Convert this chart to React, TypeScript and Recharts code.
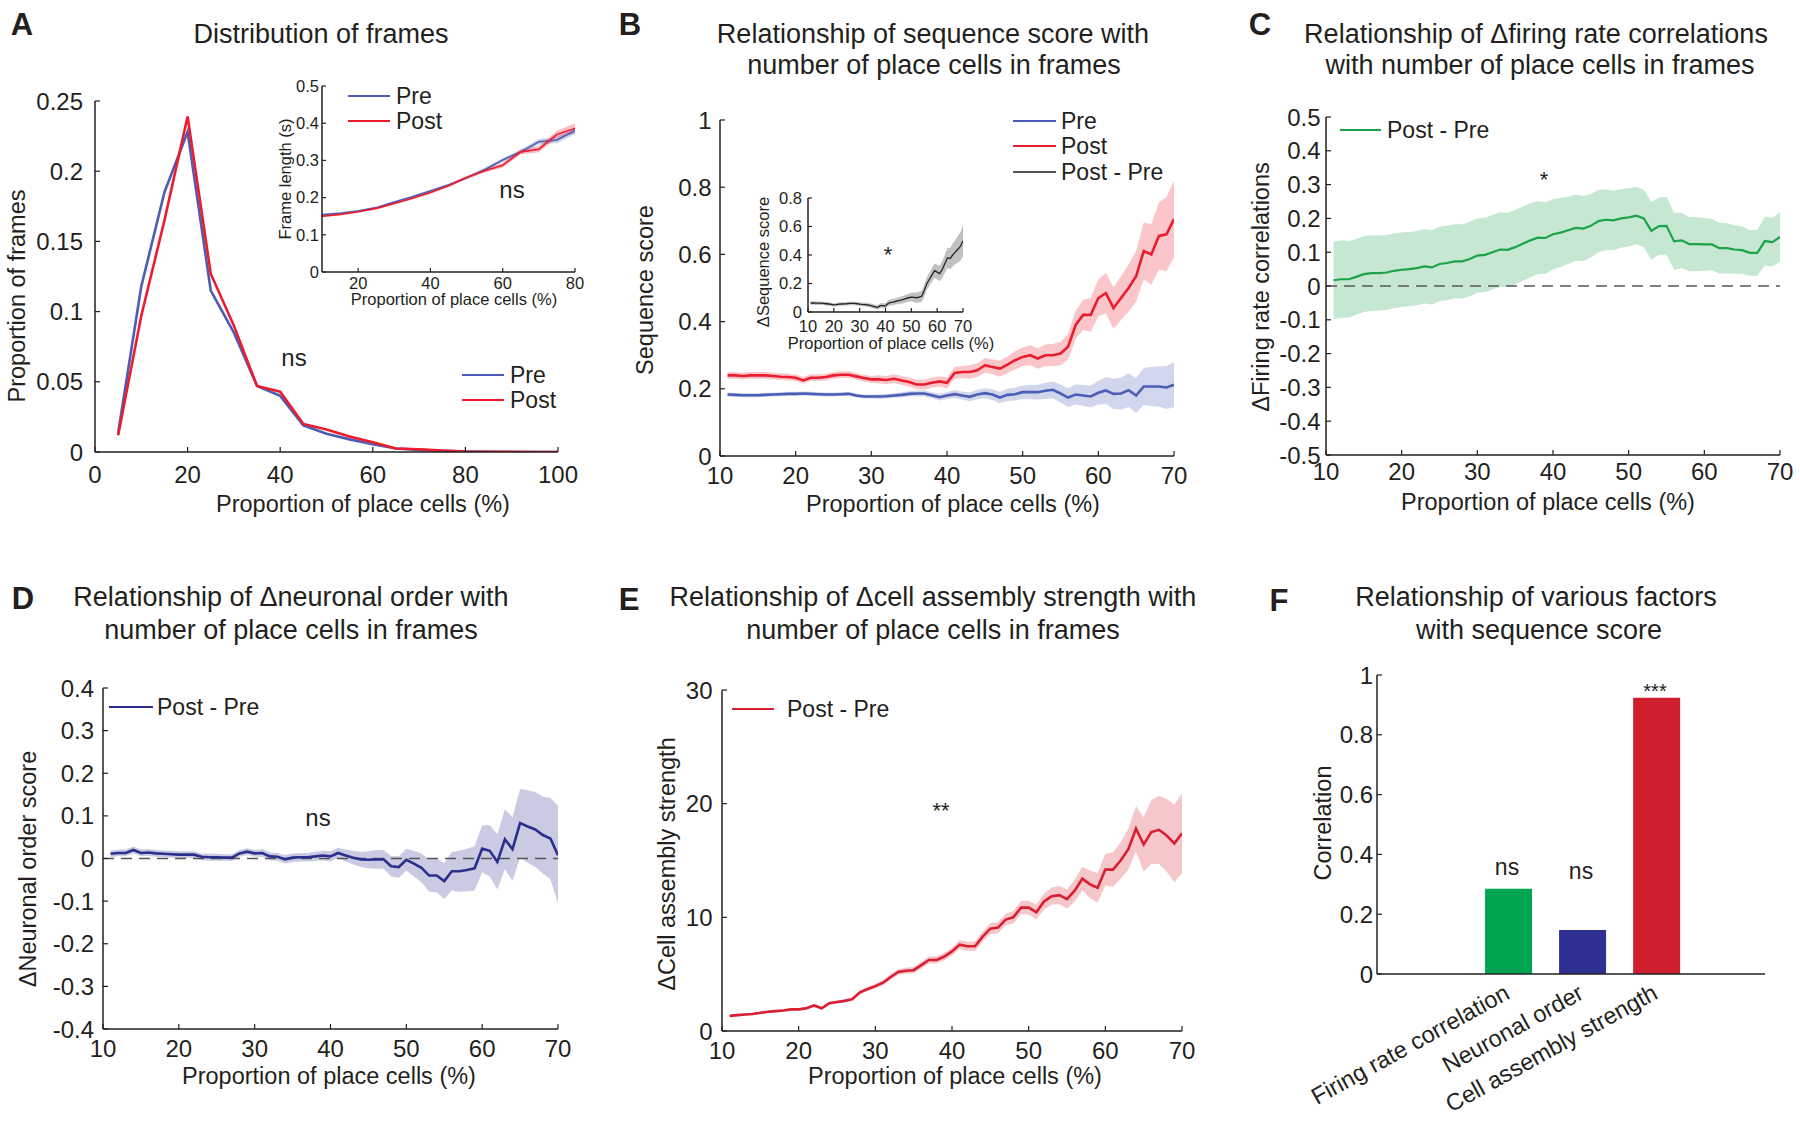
import React from 'react';
import { ComposedChart, BarChart, Bar, Cell, Line, Area, XAxis, YAxis, ReferenceLine } from 'recharts';

const FONT = '"Liberation Sans", Arial, Helvetica, sans-serif';
const INK = '#231f20';

const PRE = '#4b5db4';
const POST = '#ec1c2d';
const GREEN = '#1aa34a';
const NAVY = '#2b2f8c';
const CRED = '#d81e30';

// ---- A: distribution of frames ----
const aX = [5, 10, 15, 20, 25, 30, 35, 40, 45, 50, 55, 60, 65, 70, 75, 80, 85, 90, 95, 100];
const aPre = [0.0135, 0.118, 0.185, 0.228, 0.115, 0.085, 0.047, 0.040, 0.019, 0.013, 0.009, 0.0055, 0.0025, 0.0015, 0.0008, 0.0003, 0.0001, 0, 0, 0];
const aPost = [0.012, 0.097, 0.165, 0.239, 0.127, 0.090, 0.047, 0.043, 0.020, 0.016, 0.011, 0.007, 0.0025, 0.002, 0.001, 0.0004, 0.0002, 0.0001, 0, 0];

// A inset: frame length
const insX = [10, 15, 20, 25, 30, 35, 40, 45, 50, 55, 60, 65, 70, 75, 80];
const insPre = [0.154, 0.158, 0.164, 0.173, 0.188, 0.202, 0.218, 0.234, 0.253, 0.275, 0.301, 0.323, 0.350, 0.355, 0.380];
const insPreErr = [0.003, 0.003, 0.003, 0.003, 0.003, 0.003, 0.004, 0.004, 0.004, 0.005, 0.005, 0.006, 0.007, 0.008, 0.009];
const insPost = [0.150, 0.155, 0.162, 0.171, 0.184, 0.198, 0.214, 0.232, 0.254, 0.272, 0.287, 0.323, 0.330, 0.370, 0.386];
const insPostErr = [0.003, 0.003, 0.003, 0.003, 0.003, 0.003, 0.004, 0.004, 0.004, 0.005, 0.006, 0.007, 0.008, 0.010, 0.013];

// shared x grid for B-E (proportion of place cells, %)
const xs = [11, 12, 13, 14, 15, 16, 17, 18, 19, 20, 21, 22, 23, 24, 25, 26, 27, 28, 29, 30,
  31, 32, 33, 34, 35, 36, 37, 38, 39, 40, 41, 42, 43, 44, 45, 46, 47, 48, 49, 50,
  51, 52, 53, 54, 55, 56, 57, 58, 59, 60, 61, 62, 63, 64, 65, 66, 67, 68, 69, 70];

// ---- B: sequence score ----
const bPost = [0.240, 0.240, 0.238, 0.240, 0.240, 0.240, 0.238, 0.236, 0.235, 0.233,
  0.225, 0.233, 0.233, 0.235, 0.240, 0.242, 0.242, 0.237, 0.232, 0.228,
  0.228, 0.226, 0.230, 0.225, 0.220, 0.213, 0.213, 0.218, 0.222, 0.218,
  0.247, 0.250, 0.250, 0.255, 0.270, 0.265, 0.260, 0.272, 0.285, 0.295,
  0.300, 0.290, 0.300, 0.300, 0.305, 0.325, 0.390, 0.420, 0.420, 0.470,
  0.485, 0.440, 0.470, 0.500, 0.535, 0.610, 0.600, 0.655, 0.660, 0.705];
const bPostErr = [0.010, 0.010, 0.010, 0.010, 0.010, 0.010, 0.010, 0.010, 0.010, 0.010,
  0.010, 0.010, 0.010, 0.010, 0.010, 0.010, 0.010, 0.010, 0.010, 0.010,
  0.012, 0.012, 0.013, 0.013, 0.014, 0.014, 0.015, 0.015, 0.015, 0.016,
  0.018, 0.018, 0.020, 0.020, 0.022, 0.022, 0.024, 0.025, 0.027, 0.028,
  0.030, 0.030, 0.032, 0.033, 0.035, 0.038, 0.042, 0.045, 0.050, 0.055,
  0.060, 0.062, 0.065, 0.070, 0.075, 0.085, 0.090, 0.100, 0.110, 0.115];
const bPre = [0.183, 0.182, 0.181, 0.181, 0.181, 0.182, 0.183, 0.184, 0.185, 0.185,
  0.186, 0.185, 0.184, 0.183, 0.183, 0.184, 0.185, 0.180, 0.177, 0.177,
  0.177, 0.178, 0.180, 0.182, 0.185, 0.186, 0.186, 0.181, 0.175, 0.180,
  0.184, 0.180, 0.176, 0.183, 0.187, 0.183, 0.174, 0.182, 0.184, 0.190,
  0.190, 0.190, 0.194, 0.197, 0.186, 0.174, 0.183, 0.180, 0.177, 0.188,
  0.195, 0.185, 0.186, 0.196, 0.180, 0.207, 0.207, 0.207, 0.204, 0.212];
const bPreErr = [0.006, 0.006, 0.006, 0.006, 0.006, 0.006, 0.006, 0.006, 0.006, 0.006,
  0.006, 0.006, 0.006, 0.006, 0.006, 0.006, 0.006, 0.006, 0.006, 0.006,
  0.007, 0.007, 0.007, 0.008, 0.008, 0.008, 0.009, 0.009, 0.010, 0.010,
  0.012, 0.012, 0.013, 0.014, 0.015, 0.016, 0.017, 0.018, 0.019, 0.020,
  0.021, 0.022, 0.024, 0.025, 0.027, 0.028, 0.030, 0.031, 0.033, 0.035,
  0.040, 0.045, 0.048, 0.050, 0.052, 0.055, 0.058, 0.060, 0.064, 0.067];
// B inset: Post - Pre
const bDiff = [0.063, 0.063, 0.062, 0.062, 0.062, 0.060, 0.058, 0.056, 0.054, 0.050,
  0.052, 0.055, 0.056, 0.057, 0.058, 0.060, 0.060, 0.060, 0.058, 0.055,
  0.053, 0.052, 0.050, 0.046, 0.042, 0.036, 0.033, 0.045, 0.045, 0.043,
  0.060, 0.068, 0.070, 0.075, 0.080, 0.083, 0.088, 0.095, 0.100, 0.105,
  0.103, 0.100, 0.105, 0.110, 0.150, 0.200, 0.230, 0.260, 0.290, 0.280,
  0.270, 0.300, 0.340, 0.380, 0.375, 0.400, 0.420, 0.440, 0.460, 0.500];
const bDiffErr = [0.012, 0.012, 0.012, 0.012, 0.012, 0.012, 0.012, 0.012, 0.012, 0.012,
  0.012, 0.012, 0.012, 0.012, 0.012, 0.012, 0.012, 0.012, 0.012, 0.012,
  0.013, 0.013, 0.013, 0.014, 0.014, 0.015, 0.015, 0.016, 0.017, 0.018,
  0.020, 0.021, 0.022, 0.023, 0.024, 0.025, 0.026, 0.027, 0.028, 0.030,
  0.033, 0.035, 0.037, 0.040, 0.042, 0.044, 0.046, 0.048, 0.050, 0.052,
  0.055, 0.060, 0.065, 0.070, 0.075, 0.080, 0.085, 0.095, 0.100, 0.110];

// ---- C: delta firing rate correlations ----
const cVal = [0.017, 0.020, 0.020, 0.027, 0.035, 0.038, 0.038, 0.040, 0.045, 0.048,
  0.050, 0.053, 0.058, 0.055, 0.065, 0.068, 0.073, 0.073, 0.080, 0.090,
  0.092, 0.100, 0.108, 0.107, 0.115, 0.125, 0.135, 0.143, 0.142, 0.153,
  0.158, 0.165, 0.172, 0.170, 0.178, 0.192, 0.196, 0.194, 0.200, 0.203,
  0.208, 0.200, 0.163, 0.177, 0.178, 0.132, 0.135, 0.124, 0.124, 0.123,
  0.123, 0.112, 0.112, 0.108, 0.106, 0.098, 0.098, 0.133, 0.130, 0.145];
const cErr = [0.115, 0.115, 0.113, 0.112, 0.112, 0.112, 0.111, 0.111, 0.110, 0.110,
  0.110, 0.110, 0.110, 0.110, 0.110, 0.110, 0.110, 0.110, 0.110, 0.110,
  0.110, 0.110, 0.110, 0.110, 0.110, 0.110, 0.110, 0.108, 0.106, 0.104,
  0.102, 0.100, 0.098, 0.096, 0.094, 0.092, 0.090, 0.088, 0.087, 0.086,
  0.085, 0.085, 0.085, 0.085, 0.085, 0.085, 0.082, 0.080, 0.080, 0.078,
  0.076, 0.075, 0.074, 0.072, 0.070, 0.068, 0.068, 0.072, 0.072, 0.073];

// ---- D: delta neuronal order ----
const dVal = [0.011, 0.013, 0.013, 0.020, 0.013, 0.014, 0.012, 0.011, 0.010, 0.009,
  0.009, 0.009, 0.004, 0.003, 0.003, 0.002, 0.002, 0.012, 0.016, 0.012,
  0.013, 0.005, 0.004, -0.002, 0.002, 0.003, 0.003, 0.005, 0.007, 0.005,
  0.013, 0.007, 0.002, -0.002, -0.003, -0.002, -0.002, -0.018, -0.020, -0.003,
  -0.012, -0.022, -0.040, -0.040, -0.053, -0.030, -0.030, -0.027, -0.023, 0.023,
  0.018, -0.008, 0.045, 0.022, 0.083, 0.075, 0.068, 0.055, 0.047, 0.008];
const dErr = [0.008, 0.008, 0.008, 0.008, 0.008, 0.008, 0.008, 0.008, 0.008, 0.008,
  0.008, 0.008, 0.008, 0.008, 0.008, 0.008, 0.008, 0.008, 0.008, 0.008,
  0.009, 0.009, 0.009, 0.010, 0.010, 0.010, 0.010, 0.011, 0.011, 0.012,
  0.012, 0.014, 0.016, 0.018, 0.020, 0.022, 0.022, 0.024, 0.025, 0.026,
  0.030, 0.034, 0.038, 0.040, 0.042, 0.045, 0.048, 0.050, 0.052, 0.055,
  0.060, 0.065, 0.070, 0.075, 0.080, 0.085, 0.088, 0.090, 0.095, 0.115];

// ---- E: delta cell assembly strength ----
const eVal = [1.33, 1.40, 1.45, 1.50, 1.60, 1.70, 1.75, 1.80, 1.90, 1.90,
  2.00, 2.25, 2.00, 2.45, 2.55, 2.65, 2.80, 3.40, 3.70, 3.95,
  4.25, 4.75, 5.20, 5.30, 5.35, 5.80, 6.25, 6.25, 6.55, 7.00,
  7.60, 7.45, 7.45, 8.30, 9.00, 9.10, 9.80, 10.00, 10.85, 10.85,
  10.45, 11.40, 11.85, 11.95, 11.60, 12.35, 13.40, 12.90, 12.60, 14.20,
  14.20, 15.00, 16.00, 17.80, 16.40, 17.50, 17.70, 17.20, 16.50, 17.40];
const eErr = [0.10, 0.10, 0.10, 0.10, 0.10, 0.10, 0.10, 0.11, 0.11, 0.12,
  0.12, 0.13, 0.13, 0.14, 0.14, 0.15, 0.16, 0.17, 0.18, 0.20,
  0.22, 0.24, 0.26, 0.27, 0.28, 0.30, 0.31, 0.32, 0.33, 0.35,
  0.38, 0.40, 0.42, 0.45, 0.48, 0.50, 0.52, 0.55, 0.58, 0.60,
  0.65, 0.70, 0.75, 0.80, 0.85, 0.95, 1.05, 1.20, 1.30, 1.40,
  1.50, 1.60, 1.80, 2.00, 2.40, 2.80, 3.00, 3.20, 3.40, 3.50];

// ---- F: correlations ----
const fNames = ['Firing rate correlation', 'Neuronal order', 'Cell assembly strength'];
const fPos = [1, 2, 3];
const fVals = [0.285, 0.147, 0.924];
const fColors = ['#00a651', '#2e3192', '#cf1f2e'];

// tick labels
const aXTicks = [0, 20, 40, 60, 80, 100];
const aYTicks = [0, 0.05, 0.1, 0.15, 0.2, 0.25];
const insXTicks = [20, 40, 60, 80];
const insYTicks = [0, 0.1, 0.2, 0.3, 0.4, 0.5];
const pcTicks = [10, 20, 30, 40, 50, 60, 70];
const bYTicks = [0, 0.2, 0.4, 0.6, 0.8, 1];
const bInsYTicks = [0, 0.2, 0.4, 0.6, 0.8];
const cYTicks = [-0.5, -0.4, -0.3, -0.2, -0.1, 0, 0.1, 0.2, 0.3, 0.4, 0.5];
const dYTicks = [-0.4, -0.3, -0.2, -0.1, 0, 0.1, 0.2, 0.3, 0.4];
const eYTicks = [0, 10, 20, 30];
const fYTicks = [0, 0.2, 0.4, 0.6, 0.8, 1];

type Box = { l: number; r: number; t: number; b: number };
const YW = 100;
const MT = 20;
const MR = 30;

function frame(p: Box, xh = 60) {
  return {
    style: { position: 'absolute' as const, left: p.l - YW, top: p.t - MT },
    width: p.r - p.l + YW + MR,
    height: p.b - p.t + MT + xh,
    margin: { top: MT, right: MR, bottom: 0, left: 0 },
  };
}

const axis = (size: number) => ({
  stroke: INK,
  axisLine: { stroke: INK, strokeWidth: 1.5 },
  tickLine: { stroke: INK, strokeWidth: 1.2 },
  tick: { fontSize: size, fill: INK },
});

const band = (v: number[], e: number[], i: number) => [v[i] - e[i], v[i] + e[i]];

type Series = { key: string; color: string; width: number; band?: number };

const Plot = ({ box, data, xDomain, xTicks, yDomain, yTicks, series, size = 24, tick = 5, xm = 16, ym = 14, zero = false }: any) => {
  const f = frame(box);
  return (
    <div style={f.style}>
      <ComposedChart width={f.width} height={f.height} margin={f.margin} data={data}>
        {series.filter((s: Series) => s.band).map((s: Series) => (
          <Area key={s.key + 'B'} type="linear" dataKey={s.key + 'Band'} stroke="none" fill={s.color} fillOpacity={s.band} isAnimationActive={false} />
        ))}
        {zero && <ReferenceLine y={0} stroke="#555" strokeWidth={1.5} strokeDasharray="11 7" />}
        {series.map((s: Series) => (
          <Line key={s.key} type="linear" dataKey={s.key} stroke={s.color} strokeWidth={s.width} dot={false} isAnimationActive={false} />
        ))}
        <XAxis type="number" dataKey="x" domain={xDomain} ticks={xTicks} height={60} tickSize={-tick} tickMargin={xm} allowDataOverflow {...axis(size)} />
        <YAxis type="number" domain={yDomain} ticks={yTicks} width={YW} tickSize={-tick} tickMargin={ym} allowDataOverflow {...axis(size)} />
      </ComposedChart>
    </div>
  );
};

const Txt = ({ x, y, size = 23.5, rot = 0, bold = false, anchor = 'middle', children }: any) => {
  const tx = anchor === 'middle' ? '-50%' : anchor === 'end' ? '-100%' : '0';
  return (
    <div style={{ position: 'absolute', left: x, top: y, transform: `translate(${tx},-50%) rotate(${rot}deg)`, fontSize: size, fontWeight: bold ? 700 : 400, whiteSpace: 'nowrap', lineHeight: 1, color: INK }}>
      {children}
    </div>
  );
};

const Key = ({ x, y, w, color, thick = 2.5, label, size = 23, gap = 6 }: any) => (
  <>
    <div style={{ position: 'absolute', left: x, top: y - thick / 2, width: w, height: thick, background: color }} />
    <Txt x={x + w + gap} y={y} size={size} anchor="start">{label}</Txt>
  </>
);

const FTick = (props: any) => {
  const { x, y, payload } = props;
  const ax = x - 5;
  const ay = y + 9;
  return (
    <text x={ax} y={ay} dy="0.71em" textAnchor="end" fontSize={23.5} fill={INK} transform={`rotate(-29, ${ax}, ${ay})`}>
      {fNames[payload.value - 1]}
    </text>
  );
};

export default function App() {
  const aData = aX.map((x, i) => ({ x, pre: aPre[i], post: aPost[i] }));
  const insData = insX.map((x, i) => ({
    x, pre: insPre[i], post: insPost[i],
    preBand: band(insPre, insPreErr, i), postBand: band(insPost, insPostErr, i),
  }));
  const bData = xs.map((x, i) => ({
    x, pre: bPre[i], post: bPost[i],
    preBand: band(bPre, bPreErr, i), postBand: band(bPost, bPostErr, i),
  }));
  const bInsData = xs.map((x, i) => ({ x, diff: bDiff[i], diffBand: band(bDiff, bDiffErr, i) }));
  const cData = xs.map((x, i) => ({ x, v: cVal[i], vBand: band(cVal, cErr, i) }));
  const dData = xs.map((x, i) => ({ x, v: dVal[i], vBand: band(dVal, dErr, i) }));
  const eData = xs.map((x, i) => ({ x, v: eVal[i], vBand: band(eVal, eErr, i) }));
  const fData = fPos.map((x, i) => ({ x, v: fVals[i] }));

  const fBox = { l: 1377, r: 1765, t: 675, b: 974 };
  const ff = frame(fBox, 170);

  return (
    <div style={{ position: 'absolute', left: 0, top: 0, width: 1800, height: 1123, background: '#fff', fontFamily: FONT, overflow: 'hidden' }}>
      {/* A */}
      <Txt x={22} y={24} size={31} bold>A</Txt>
      <Txt x={321} y={34} size={27}>Distribution of frames</Txt>
      <Plot box={{ l: 95, r: 558, t: 101, b: 452 }} data={aData} xDomain={[0, 100]} xTicks={aXTicks} yDomain={[0, 0.25]} yTicks={aYTicks}
        series={[{ key: 'pre', color: PRE, width: 2.6 }, { key: 'post', color: POST, width: 2.6 }]} xm={19} ym={17} />
      <Txt x={18} y={296} rot={-90}>Proportion of frames</Txt>
      <Txt x={363} y={505}>Proportion of place cells (%)</Txt>
      <Txt x={294} y={358} size={24}>ns</Txt>
      <Key x={462} y={375} w={42} color={PRE} label="Pre" />
      <Key x={462} y={400} w={42} color={POST} label="Post" />

      <Plot box={{ l: 322, r: 575, t: 86, b: 272 }} data={insData} xDomain={[10, 80]} xTicks={insXTicks} yDomain={[0, 0.5]} yTicks={insYTicks}
        series={[{ key: 'pre', color: PRE, width: 1.6, band: 0.3 }, { key: 'post', color: POST, width: 1.6, band: 0.3 }]} size={16.5} tick={4} xm={9} ym={7} />
      <Txt x={285} y={179} size={16.5} rot={-90}>Frame length (s)</Txt>
      <Txt x={454} y={299} size={16.5}>Proportion of place cells (%)</Txt>
      <Txt x={512} y={190} size={24}>ns</Txt>
      <Key x={348} y={96} w={42} color={PRE} label="Pre" />
      <Key x={348} y={121} w={42} color={POST} label="Post" />

      {/* B */}
      <Txt x={630} y={24} size={31} bold>B</Txt>
      <Txt x={933} y={34} size={27}>Relationship of sequence score with</Txt>
      <Txt x={934} y={65} size={27}>number of place cells in frames</Txt>
      <Plot box={{ l: 720, r: 1174, t: 120, b: 456 }} data={bData} xDomain={[10, 70]} xTicks={pcTicks} yDomain={[0, 1]} yTicks={bYTicks}
        series={[{ key: 'pre', color: PRE, width: 2.6, band: 0.25 }, { key: 'post', color: POST, width: 2.6, band: 0.25 }]} ym={13.5} />
      <Txt x={646} y={290} rot={-90}>Sequence score</Txt>
      <Txt x={953} y={505}>Proportion of place cells (%)</Txt>
      <Key x={1013} y={121} w={43} color={PRE} label="Pre" gap={5} />
      <Key x={1013} y={146} w={43} color={POST} label="Post" gap={5} />
      <Key x={1013} y={172} w={43} color="#555" thick={1.3} label="Post - Pre" gap={5} />

      <Plot box={{ l: 808, r: 963, t: 198, b: 312 }} data={bInsData} xDomain={[10, 70]} xTicks={pcTicks} yDomain={[0, 0.8]} yTicks={bInsYTicks}
        series={[{ key: 'diff', color: '#222', width: 1.3, band: 0.28 }]} size={16.5} tick={4} xm={12} ym={10} />
      <Txt x={763} y={262} size={16.5} rot={-90}>ΔSequence score</Txt>
      <Txt x={891} y={343} size={16.5}>Proportion of place cells (%)</Txt>
      <Txt x={888} y={255} size={22}>*</Txt>

      {/* C */}
      <Txt x={1260} y={24} size={31} bold>C</Txt>
      <Txt x={1536} y={34} size={27}>Relationship of Δfiring rate correlations</Txt>
      <Txt x={1540} y={65} size={27}>with number of place cells in frames</Txt>
      <Plot box={{ l: 1326, r: 1780, t: 117, b: 455 }} data={cData} xDomain={[10, 70]} xTicks={pcTicks} yDomain={[-0.5, 0.5]} yTicks={cYTicks}
        series={[{ key: 'v', color: GREEN, width: 2.2, band: 0.25 }]} ym={10.5} xm={13} zero />
      <Txt x={1262} y={287} rot={-90}>ΔFiring rate correlations</Txt>
      <Txt x={1548} y={503}>Proportion of place cells (%)</Txt>
      <Key x={1340} y={130} w={41} color={GREEN} thick={2.2} label="Post - Pre" />
      <Txt x={1544} y={180} size={22}>*</Txt>

      {/* D */}
      <Txt x={23} y={598} size={31} bold>D</Txt>
      <Txt x={291} y={597} size={27}>Relationship of Δneuronal order with</Txt>
      <Txt x={291} y={630} size={27}>number of place cells in frames</Txt>
      <Plot box={{ l: 103, r: 558, t: 688, b: 1029 }} data={dData} xDomain={[10, 70]} xTicks={pcTicks} yDomain={[-0.4, 0.4]} yTicks={dYTicks}
        series={[{ key: 'v', color: NAVY, width: 2.6, band: 0.25 }]} xm={15.5} zero />
      <Txt x={29} y={869} rot={-90}>ΔNeuronal order score</Txt>
      <Txt x={329} y={1077}>Proportion of place cells (%)</Txt>
      <Key x={109} y={707} w={44} color={NAVY} label="Post - Pre" gap={4} />
      <Txt x={318} y={818} size={24}>ns</Txt>

      {/* E */}
      <Txt x={629} y={599} size={31} bold>E</Txt>
      <Txt x={933} y={597} size={27}>Relationship of Δcell assembly strength with</Txt>
      <Txt x={933} y={630} size={27}>number of place cells in frames</Txt>
      <Plot box={{ l: 722, r: 1182, t: 690, b: 1031 }} data={eData} xDomain={[10, 70]} xTicks={pcTicks} yDomain={[0, 30]} yTicks={eYTicks}
        series={[{ key: 'v', color: CRED, width: 2.6, band: 0.25 }]} xm={15.5} ym={14.5} />
      <Txt x={668} y={864} rot={-90}>ΔCell assembly strength</Txt>
      <Txt x={955} y={1077}>Proportion of place cells (%)</Txt>
      <Key x={732} y={709} w={42} color={CRED} label="Post - Pre" gap={13} />
      <Txt x={941} y={811} size={22}>**</Txt>

      {/* F */}
      <Txt x={1279} y={600} size={31} bold>F</Txt>
      <Txt x={1536} y={597} size={27}>Relationship of various factors</Txt>
      <Txt x={1539} y={630} size={27}>with sequence score</Txt>
      <div style={ff.style}>
        <BarChart width={ff.width} height={ff.height} margin={ff.margin} data={fData}>
          <XAxis type="number" dataKey="x" domain={[-0.77, 4.47]} ticks={fPos} height={170} tickSize={0} tickMargin={0} tickLine={false}
            axisLine={{ stroke: INK, strokeWidth: 1.5 }} tick={<FTick />} allowDataOverflow />
          <YAxis type="number" domain={[0, 1]} ticks={fYTicks} width={YW} tickSize={-5} tickMargin={9} {...axis(24)} />
          <Bar dataKey="v" barSize={47} isAnimationActive={false}>
            {fData.map((d, i) => <Cell key={d.x} fill={fColors[i]} />)}
          </Bar>
        </BarChart>
      </div>
      <Txt x={1324} y={823} rot={-90}>Correlation</Txt>
      <Txt x={1507} y={867} size={23}>ns</Txt>
      <Txt x={1581} y={871} size={23}>ns</Txt>
      <Txt x={1655} y={691} size={20}>***</Txt>
    </div>
  );
}
